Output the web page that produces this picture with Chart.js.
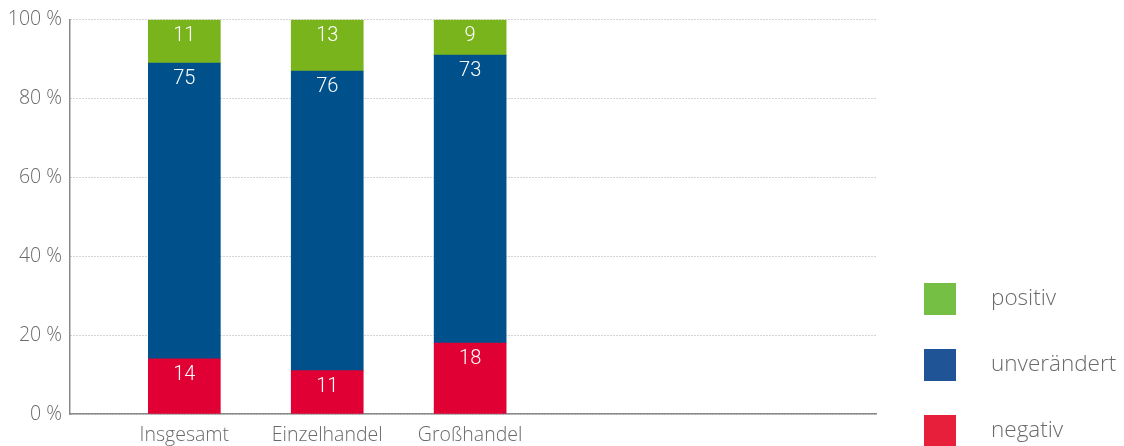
<!DOCTYPE html>
<html>
<head>
<meta charset="utf-8">
<script src="https://cdn.jsdelivr.net/npm/chart.js@4/dist/chart.umd.min.js"></script>
<style>
  html, body { margin: 0; padding: 0; background: #fff; }
  #wrap { width: 1124px; height: 446px; }
</style>
</head>
<body>
<div id="wrap"><canvas id="chart"></canvas></div>
<script>
const categories = ['Insgesamt', 'Einzelhandel', 'Großhandel'];
const negativ = [14, 11, 18];
const unveraendert = [75, 76, 73];
const positiv = [11, 13, 9];
const yTicks = [0, 20, 40, 60, 80, 100];

const FONT = "'Open Sans', sans-serif";
const NUM_FONT = "Roboto, sans-serif";

// white numbers near the top of each segment
const segmentLabels = {
    id: 'segmentLabels',
    afterDatasetsDraw(chart) {
        const ctx = chart.ctx;
        ctx.save();
        ctx.fillStyle = '#ffffff';
        ctx.font = '300 20px ' + NUM_FONT;
        ctx.textAlign = 'center';
        ctx.textBaseline = 'middle';
        chart.data.datasets.forEach((ds, i) => {
            chart.getDatasetMeta(i).data.forEach((bar, j) => {
                ctx.fillText(ds.data[j].y, bar.x, bar.y + 16);
            });
        });
        ctx.restore();
    }
};

// legend on the right, top item = last dataset
const sideLegend = {
    id: 'sideLegend',
    afterDraw(chart) {
        const ctx = chart.ctx;
        const items = chart.data.datasets.slice().reverse();
        ctx.save();
        ctx.font = '300 22.5px ' + FONT;
        ctx.textBaseline = 'middle';
        ctx.textAlign = 'left';
        items.forEach((ds, i) => {
            const cy = 299 + i * 66;
            ctx.fillStyle = ds.legendColor;
            ctx.fillRect(924, cy - 16, 32, 32);
            ctx.fillStyle = '#6a6a6a';
            ctx.fillText(ds.label, 991, cy);
        });
        ctx.restore();
    }
};

const toPoints = arr => arr.map((v, i) => ({ x: i + 1, y: v }));

new Chart(document.getElementById('chart'), {
    type: 'bar',
    data: {
        datasets: [
            { label: 'negativ', data: toPoints(negativ), backgroundColor: '#e10034', legendColor: '#e71f3a' },
            { label: 'unverändert', data: toPoints(unveraendert), backgroundColor: '#00508b', legendColor: '#1f5596' },
            { label: 'positiv', data: toPoints(positiv), backgroundColor: '#7ab41d', legendColor: '#74bf44' }
        ]
    },
    options: {
        responsive: true,
        maintainAspectRatio: false,
        animation: false,
        layout: { padding: { top: 19, right: 248, left: 0, bottom: 0 } },
        datasets: { bar: { barThickness: 72 } },
        plugins: {
            legend: { display: false },
            tooltip: { enabled: false }
        },
        scales: {
            x: {
                type: 'linear',
                stacked: true,
                offset: false,
                min: 0.2,
                max: 5.84,
                afterFit: s => { s.height = 32; },
                grid: { display: false },
                border: { display: true, color: '#8a8a8a', width: 1.5 },
                ticks: {
                    stepSize: 1,
                    autoSkip: false,
                    maxRotation: 0,
                    padding: 2,
                    color: '#6a6a6a',
                    font: { family: FONT, size: 19.5, weight: '300' },
                    callback: v => (Number.isInteger(v) && categories[v - 1]) || ''
                }
            },
            y: {
                stacked: true,
                min: 0,
                max: 100,
                afterFit: s => { s.width = 70; },
                afterBuildTicks: s => { s.ticks = yTicks.map(v => ({ value: v })); },
                grid: { color: '#a8a8a8', lineWidth: 1, drawTicks: false },
                border: { display: true, color: '#8a8a8a', width: 1.5, dash: [1, 2] },
                ticks: {
                    padding: 8,
                    color: '#6a6a6a',
                    font: { family: FONT, size: 19.5, weight: '300' },
                    callback: v => v + ' %'
                }
            }
        }
    },
    plugins: [segmentLabels, sideLegend]
});
</script>
</body>
</html>
